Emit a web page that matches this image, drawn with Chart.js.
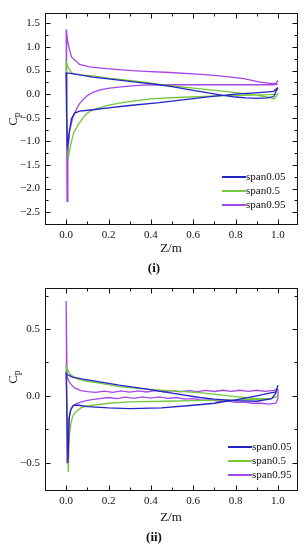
<!DOCTYPE html>
<html>
<head>
<meta charset="utf-8">
<script src="https://cdn.jsdelivr.net/npm/chart.js@4.4.1/dist/chart.umd.min.js"></script>
<style>
  html, body { margin: 0; padding: 0; background: #fff; }
  #wrap { position: relative; width: 308px; height: 550px; overflow: hidden; }
  canvas { position: absolute; left: 0; }
  .cap { position: absolute; left: 0; width: 308px; text-align: center; line-height: 16px;
         font: bold 13px "Liberation Serif", "Times New Roman", serif; color: #111; }
</style>
</head>
<body>
<div id="wrap">
  <canvas id="c1" width="308" height="276" style="top:0"></canvas>
  <div class="cap" style="top:260px">(i)</div>
  <canvas id="c2" width="308" height="274" style="top:276px"></canvas>
  <div class="cap" style="top:529px">(ii)</div>
</div>
<script>
const labels = ['span0.05', 'span0.5', 'span0.95'];
const colors = ['#2424c4', '#74c63c', '#a447e4'];
const xTicks = [0, 0.2, 0.4, 0.6, 0.8, 1.0];
const yTicksI = [-2.5, -2, -1.5, -1, -0.5, 0, 0.5, 1, 1.5];
const yTicksII = [-0.5, 0, 0.5];

// panel (i): each loop runs trailing edge -> upper side -> leading edge -> lower side -> trailing edge
const z05i  = [1.0, 0.98, 0.95, 0.9, 0.85, 0.8, 0.72, 0.6, 0.5, 0.44, 0.36, 0.25, 0.126, 0.05, 0.02, 0.0,
               0.002, 0.006, 0.01, 0.015, 0.025, 0.04, 0.063, 0.126, 0.2, 0.3, 0.44, 0.55, 0.68, 0.8, 0.91, 0.98, 1.0];
const cp05i = [0.14, -0.05, -0.08, -0.09, -0.08, -0.06, -0.01, 0.08, 0.16, 0.2, 0.24, 0.3, 0.36, 0.42, 0.44, 0.45,
               -0.4, -1.1, -1.0, -0.8, -0.52, -0.4, -0.36, -0.33, -0.29, -0.24, -0.18, -0.12, -0.05, 0.0, 0.035, 0.06, 0.14];

const z50i  = [1.0, 0.99, 0.98, 0.96, 0.9, 0.82, 0.76, 0.6, 0.44, 0.36, 0.2, 0.126, 0.063, 0.03, 0.015, 0.005, 0.0,
               0.004, 0.01, 0.02, 0.035, 0.055, 0.079, 0.1, 0.126, 0.2, 0.28, 0.4, 0.52, 0.65, 0.76, 0.88, 0.96, 1.0];
const cp50i = [0.02, -0.06, -0.1, -0.07, -0.02, 0.02, 0.055, 0.13, 0.21, 0.26, 0.34, 0.39, 0.41, 0.44, 0.52, 0.62, 0.69,
               -0.6, -1.35, -1.1, -0.82, -0.66, -0.5, -0.4, -0.33, -0.23, -0.17, -0.1, -0.07, -0.045, -0.03, -0.02, -0.01, 0.0];

const z95i  = [1.0, 0.99, 0.96, 0.91, 0.84, 0.78, 0.7, 0.6, 0.49, 0.35, 0.28, 0.19, 0.11, 0.063, 0.047, 0.025, 0.016, 0.008, 0.0,
               0.002, 0.004, 0.008, 0.015, 0.031, 0.047, 0.063, 0.079, 0.1, 0.126, 0.16, 0.205, 0.27, 0.36, 0.5, 0.7, 0.9, 0.98, 1.0];
const cp95i = [0.29, 0.23, 0.23, 0.26, 0.33, 0.36, 0.4, 0.43, 0.46, 0.49, 0.51, 0.54, 0.58, 0.63, 0.7, 0.79, 0.94, 1.1, 1.37,
               -0.45, -2.27, -1.3, -0.8, -0.5, -0.33, -0.2, -0.12, -0.03, 0.04, 0.09, 0.13, 0.16, 0.19, 0.2, 0.2, 0.2, 0.2, 0.22];

// panel (ii)
const z05ii  = [1.0, 0.99, 0.97, 0.9, 0.79, 0.7, 0.63, 0.5, 0.39, 0.25, 0.158, 0.08, 0.03, 0.005, 0.0,
                0.008, 0.012, 0.015, 0.022, 0.035, 0.06, 0.1, 0.2, 0.3, 0.45, 0.6, 0.7, 0.8, 0.9, 0.96, 0.99, 1.0];
const cp05ii = [0.08, 0.02, -0.02, -0.04, -0.036, -0.025, -0.012, 0.02, 0.048, 0.08, 0.105, 0.125, 0.14, 0.16, 0.17,
                -0.5, -0.3, -0.16, -0.1, -0.07, -0.07, -0.08, -0.09, -0.095, -0.09, -0.07, -0.055, -0.03, 0.0, 0.02, 0.03, 0.08];

const z50ii  = [1.0, 0.97, 0.9, 0.8, 0.63, 0.39, 0.25, 0.158, 0.08, 0.047, 0.02, 0.005, 0.0,
                0.01, 0.015, 0.02, 0.03, 0.045, 0.07, 0.1, 0.2, 0.3, 0.47, 0.6, 0.8, 0.9, 0.97, 1.0];
const cp50ii = [0.0, -0.02, -0.02, -0.005, 0.024, 0.048, 0.07, 0.096, 0.115, 0.13, 0.16, 0.2, 0.22,
                -0.57, -0.3, -0.23, -0.155, -0.12, -0.09, -0.075, -0.055, -0.045, -0.04, -0.035, -0.03, -0.025, -0.02, 0.0];

const z95ii  = [1.0, 0.98, 0.94, 0.9, 0.86, 0.82, 0.78, 0.74, 0.7, 0.66, 0.62, 0.58, 0.54, 0.5, 0.46, 0.42, 0.38, 0.34, 0.3, 0.26,
                0.22, 0.18, 0.14, 0.1, 0.07, 0.04, 0.024, 0.012, 0.004, 0.0,
                0.004, 0.008, 0.013, 0.02, 0.03, 0.045, 0.065, 0.09, 0.12, 0.16, 0.2, 0.24, 0.28, 0.32, 0.36, 0.4, 0.44, 0.48, 0.52, 0.56,
                0.6, 0.64, 0.68, 0.72, 0.76, 0.8, 0.84, 0.88, 0.92, 0.96, 0.99, 1.0, 1.0];
const cp95ii = [0.05, 0.042, 0.034, 0.042, 0.034, 0.042, 0.034, 0.042, 0.033, 0.041, 0.032, 0.04, 0.031, 0.04, 0.03, 0.039, 0.029, 0.038, 0.028, 0.037,
                0.027, 0.035, 0.026, 0.032, 0.04, 0.06, 0.084, 0.11, 0.15, 0.71,
                -0.5, -0.32, -0.17, -0.11, -0.08, -0.062, -0.048, -0.038, -0.028, -0.02, -0.012, -0.02, -0.01, -0.018, -0.008, -0.016, -0.008, -0.018, -0.012, -0.024,
                -0.02, -0.032, -0.03, -0.04, -0.038, -0.048, -0.046, -0.055, -0.055, -0.062, -0.055, -0.02, 0.05];

const serif = '"Liberation Serif", "Times New Roman", serif';
const fmt = v => Number(v).toFixed(1).replace('-', '\u2212');

// box with inward ticks on all four sides
const framePlugin = {
  id: 'frame',
  afterDraw(chart, args, o) {
    const { ctx, chartArea: a, scales: { x, y } } = chart;
    const L = Math.round(a.left) + 0.5, R = Math.round(a.right) + 0.5;
    const T = Math.round(a.top) + 0.5, B = Math.round(a.bottom) + 0.5;
    ctx.save();
    ctx.strokeStyle = '#111';
    ctx.lineWidth = 1;
    ctx.strokeRect(L, T, R - L, B - T);
    ctx.beginPath();
    const marks = (sc, minor, major) => {
      const out = [];
      const k0 = Math.ceil(sc.min / minor - 1e-6), k1 = Math.floor(sc.max / minor + 1e-6);
      for (let k = k0; k <= k1; k++) {
        const v = k * minor, r = v / major;
        out.push({ p: Math.round(sc.getPixelForValue(v)) + 0.5, big: Math.abs(r - Math.round(r)) < 1e-6 });
      }
      return out;
    };
    marks(x, o.xMinor, o.xMajor).forEach(m => {
      const len = m.big ? 5 : 3;
      ctx.moveTo(m.p, B); ctx.lineTo(m.p, B - len);
      ctx.moveTo(m.p, T); ctx.lineTo(m.p, T + len);
    });
    marks(y, o.yMinor, o.yMajor).forEach(m => {
      const len = m.big ? 5 : 3;
      ctx.moveTo(L, m.p); ctx.lineTo(L + len, m.p);
      ctx.moveTo(R, m.p); ctx.lineTo(R - len, m.p);
    });
    ctx.stroke();
    ctx.restore();
  }
};

const legendPlugin = {
  id: 'spanLegend',
  afterDraw(chart, args, o) {
    const { ctx } = chart;
    ctx.save();
    ctx.font = '11px ' + serif;
    ctx.textBaseline = 'middle';
    ctx.textAlign = 'left';
    chart.data.datasets.forEach((ds, i) => {
      const yy = o.y0 + i * o.dy;
      ctx.strokeStyle = ds.borderColor;
      ctx.lineWidth = 2;
      ctx.beginPath();
      ctx.moveTo(o.x1, yy); ctx.lineTo(o.x2, yy);
      ctx.stroke();
      ctx.fillStyle = '#111';
      ctx.fillText(ds.label, o.x2, yy);
    });
    ctx.restore();
  }
};

const cpTitlePlugin = {
  id: 'cpTitle',
  afterDraw(chart, args, o) {
    const { ctx } = chart;
    ctx.save();
    ctx.translate(o.x, o.y);
    ctx.rotate(-Math.PI / 2);
    ctx.fillStyle = '#111';
    ctx.textBaseline = 'middle';
    ctx.font = '13px ' + serif;
    const wc = ctx.measureText('C').width;
    ctx.font = '10px ' + serif;
    const wp = ctx.measureText('p').width;
    const x0 = -(wc + wp) / 2;
    ctx.font = '13px ' + serif;
    ctx.fillText('C', x0, 0);
    ctx.font = '10px ' + serif;
    ctx.fillText('p', x0 + wc, 3);
    ctx.restore();
  }
};

function makeChart(id, sets, yMin, yMax, yTicks, box) {
  return new Chart(document.getElementById(id), {
    type: 'scatter',
    data: {
      datasets: sets.map((s, i) => ({
        label: labels[i],
        data: s[0].map((z, k) => ({ x: z, y: s[1][k] })),
        showLine: true,
        borderColor: colors[i],
        backgroundColor: colors[i],
        borderWidth: 1.3,
        pointRadius: 0,
        pointHoverRadius: 0,
        tension: 0,
        fill: false
      }))
    },
    options: {
      responsive: false,
      animation: false,
      events: [],
      layout: { padding: { top: box.top, right: 11, left: 0, bottom: 0 } },
      plugins: {
        legend: { display: false },
        tooltip: { enabled: false },
        frame: { xMinor: 0.1, xMajor: 0.2, yMinor: 0.25, yMajor: 0.5 },
        spanLegend: box.legend,
        cpTitle: box.cp
      },
      scales: {
        x: {
          type: 'linear', min: -0.1, max: 1.09,
          grid: { display: false, drawTicks: false },
          border: { display: false },
          afterBuildTicks: s => { s.ticks = xTicks.map(v => ({ value: v })); },
          afterFit: s => { s.height = box.xh; },
          ticks: { padding: 5, color: '#111', font: { family: serif, size: 11 }, callback: fmt, maxRotation: 0, autoSkip: false },
          title: { display: true, text: 'Z/m', color: '#111', font: { family: serif, size: 13 }, padding: { top: 0, bottom: box.titlePad } }
        },
        y: {
          type: 'linear', min: yMin, max: yMax,
          grid: { display: false, drawTicks: false },
          border: { display: false },
          afterBuildTicks: s => { s.ticks = yTicks.map(v => ({ value: v })); },
          afterFit: s => { s.width = 45; },
          ticks: { padding: 5, color: '#111', font: { family: serif, size: 11 }, callback: fmt, autoSkip: false },
          title: { display: false }
        }
      }
    },
    plugins: [framePlugin, legendPlugin, cpTitlePlugin]
  });
}

makeChart('c1', [[z05i, cp05i], [z50i, cp50i], [z95i, cp95i]], -2.75, 1.72, yTicksI, {
  top: 13, xh: 52, titlePad: 20,
  legend: { x1: 222, x2: 246, y0: 177, dy: 14 },
  cp: { x: 14, y: 119 }
});
makeChart('c2', [[z05ii, cp05ii], [z50ii, cp50ii], [z95ii, cp95ii]], -0.704, 0.81, yTicksII, {
  top: 2, xh: 60, titlePad: 25,
  legend: { x1: 228, x2: 252, y0: 171, dy: 14 },
  cp: { x: 14, y: 101 }
});
</script>
</body>
</html>
